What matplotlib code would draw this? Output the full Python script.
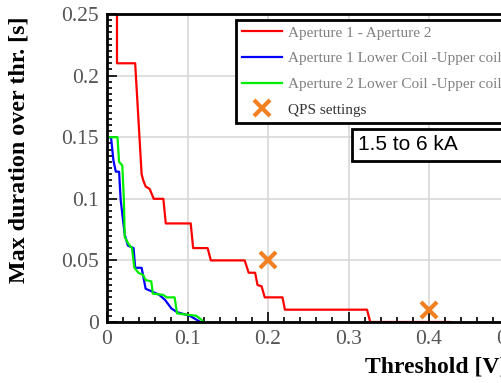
import numpy as np
import matplotlib
matplotlib.use("Agg")
import matplotlib.pyplot as plt
from matplotlib.ticker import MultipleLocator, FuncFormatter

# ── data ─────────────────────────────────────────────────────────
red_x = [0.0124, 0.0124, 0.035, 0.043, 0.045, 0.048, 0.053, 0.058, 0.070, 0.073,
         0.104, 0.107, 0.125, 0.129, 0.171, 0.176, 0.184, 0.187, 0.192, 0.196,
         0.218, 0.221, 0.323, 0.327, 0.426]
red_y = [0.25, 0.21, 0.21, 0.12, 0.115, 0.11, 0.108, 0.10, 0.10, 0.08,
         0.08, 0.06, 0.06, 0.05, 0.05, 0.04, 0.04, 0.03, 0.029, 0.02,
         0.02, 0.01, 0.01, 0.0, 0.0]

blue_x = [0.0, 0.005, 0.008, 0.011, 0.015, 0.017, 0.022, 0.026, 0.033, 0.035,
          0.043, 0.048, 0.055, 0.065, 0.072, 0.080, 0.087, 0.103, 0.116]
blue_y = [0.15, 0.15, 0.131, 0.122, 0.122, 0.099, 0.071, 0.062, 0.06, 0.044,
          0.044, 0.027, 0.025, 0.022, 0.018, 0.011, 0.008, 0.005, 0.0]

green_x = [0.0, 0.013, 0.015, 0.019, 0.021, 0.022, 0.027, 0.031, 0.034, 0.039,
           0.045, 0.048, 0.055, 0.057, 0.070, 0.074, 0.084, 0.087, 0.099, 0.111,
           0.117, 0.120]
green_y = [0.15, 0.15, 0.13, 0.127, 0.099, 0.069, 0.063, 0.060, 0.044, 0.040,
           0.038, 0.034, 0.033, 0.023, 0.022, 0.020, 0.020, 0.007, 0.006, 0.005,
           0.002, 0.0]

qps_x = [0.2, 0.4]
qps_y = [0.05, 0.01]

labels = ["Aperture 1 - Aperture 2", "Aperture 1 Lower Coil -Upper coil",
          "Aperture 2 Lower Coil -Upper coil", "QPS settings"]

# ── figure ───────────────────────────────────────────────────────
fig = plt.figure(figsize=(5.02, 3.83), dpi=100)
ax = fig.add_axes([107/502, 61/383, 402.5/502, 308/383])

ax.plot(red_x, red_y, color="#ff0000", lw=1.6, label=labels[0])
ax.plot(blue_x, blue_y, color="#0000ff", lw=1.6, label=labels[1])
ax.plot(green_x, green_y, color="#00ee00", lw=1.6, label=labels[2])
ax.plot(qps_x, qps_y, ls="none", marker="x", ms=11, mew=3,
        color="#f08020", label=labels[3])

ax.set_xlim(0, 0.5); ax.set_ylim(0, 0.25)
ax.xaxis.set_major_locator(MultipleLocator(0.1))
ax.xaxis.set_minor_locator(MultipleLocator(0.02))
ax.yaxis.set_major_locator(MultipleLocator(0.05))
ax.yaxis.set_minor_locator(MultipleLocator(0.005))
fmt = FuncFormatter(lambda v, p: f"{v:g}")
ax.xaxis.set_major_formatter(fmt); ax.yaxis.set_major_formatter(fmt)
ax.tick_params(which="both", direction="in", labelcolor="#555555",
               labelsize=15.5, width=1.2)
ax.tick_params(which="major", length=7, pad=6)
ax.tick_params(which="minor", length=3.5)
for lab in ax.get_xticklabels() + ax.get_yticklabels():
    lab.set_family("Liberation Serif")
ax.grid(which="major", color="#d8d8d8", lw=1.2)
for s in ax.spines.values():
    s.set_linewidth(2)

ax.set_xlabel("Threshold [V]", family="Liberation Serif", fontweight="bold",
              fontsize=17, ha="left")
ax.xaxis.set_label_coords((365 - 107) / 402.5, -34 / 308)
ax.set_ylabel("Max duration over thr. [s]", family="Liberation Serif",
              fontweight="bold", fontsize=17.3)
ax.yaxis.set_label_coords((30 - 107) / 402.5, (322 - 150) / 308)

leg = ax.legend(loc="upper left", bbox_to_anchor=(236/502, 1 - 20/383),
                bbox_transform=fig.transFigure, fancybox=False,
                framealpha=1, edgecolor="black", borderaxespad=0,
                prop={"family": "Liberation Serif", "size": 11},
                handlelength=2.6, handletextpad=0.4, labelspacing=0.78,
                borderpad=0.4)
leg.get_frame().set_linewidth(2)
for t in leg.get_texts()[:3]:
    t.set_color("#808080")
for t in leg.get_texts()[3:]:
    t.set_color("#333333")

fig.text(358/502, 1 - 145/383, "1.5 to 6 kA          ", family="Liberation Sans",
         fontsize=15, va="center", ha="left",
         bbox=dict(boxstyle="square,pad=0.3", fc="white", ec="black", lw=2))

plt.savefig("out.png", dpi=100)
